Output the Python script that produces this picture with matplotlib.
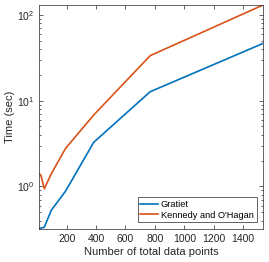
import matplotlib
matplotlib.use("Agg")
import matplotlib.pyplot as plt
from matplotlib.ticker import LogLocator, NullFormatter

plt.rcParams["font.family"] = ["Liberation Sans", "DejaVu Sans"]
plt.rcParams["mathtext.fontset"] = "custom"
plt.rcParams["mathtext.rm"] = "Liberation Sans"

n_points = [12, 24, 48, 96, 192, 384, 768, 1536]
gratiet = [0.325, 0.327, 0.336, 0.53, 0.88, 3.27, 12.7, 46.4]
kennedy = [1.40, 1.37, 0.94, 1.41, 2.77, 6.8, 33.4, 130]

fig = plt.figure(figsize=(2.69, 2.62), dpi=100)
ax = fig.add_axes([0.145, 0.126, 0.833, 0.855])

ax.plot(n_points, gratiet, color="#0072BD", lw=1.2, label="Gratiet")
ax.plot(n_points, kennedy, color="#D95319", lw=1.2, label="Kennedy and O'Hagan")

ax.set_yscale("log")
ax.set_xlim(12, 1536)
ax.set_ylim(0.32, 130)
ax.set_xticks([200, 400, 600, 800, 1000, 1200, 1400])
ax.yaxis.set_major_locator(LogLocator(base=10))
ax.yaxis.set_minor_locator(LogLocator(base=10, subs=range(2, 10)))
ax.yaxis.set_minor_formatter(NullFormatter())

ax.set_xlabel("Number of total data points", fontsize=8, color="#262626", labelpad=2)
ax.set_ylabel("Time (sec)", fontsize=8, color="#262626", labelpad=1)

ax.tick_params(which="both", direction="in", top=True, right=True,
               colors="#262626", labelsize=7.5)
ax.tick_params(which="major", length=3, width=0.5)
ax.tick_params(which="minor", length=1.5, width=0.5)
for s in ax.spines.values():
    s.set_color("#262626")
    s.set_linewidth(0.5)

leg = ax.legend(loc="lower right", fontsize=6.7, handlelength=1.9,
                handletextpad=0.3, borderpad=0.3, labelspacing=0.2,
                fancybox=False, framealpha=1, borderaxespad=0.7)
leg.get_frame().set_edgecolor("#262626")
leg.get_frame().set_linewidth(0.5)

fig.savefig("out.png", dpi=100)
